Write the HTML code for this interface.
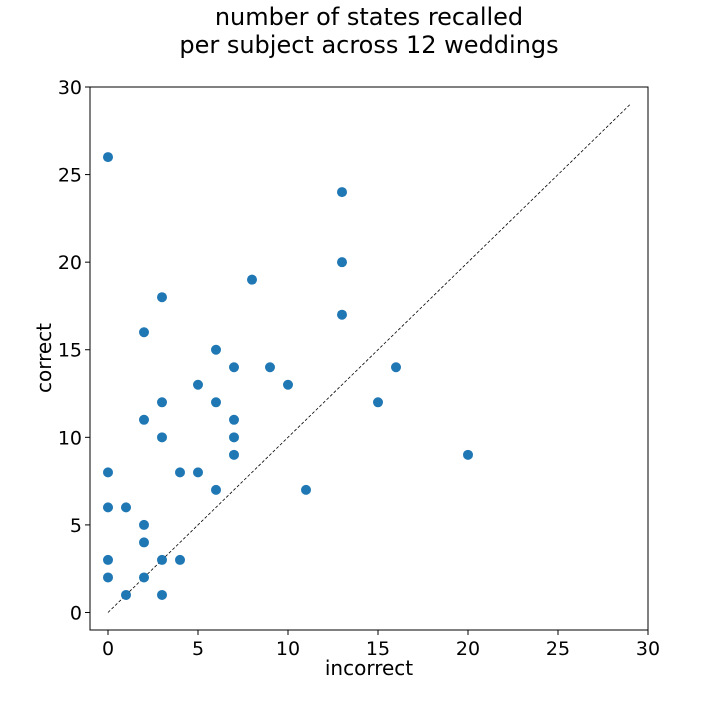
<!DOCTYPE html>
<html><head><meta charset="utf-8"><style>
html,body{margin:0;padding:0;background:#fff;}
svg{display:block;font-family:"DejaVu Sans","Liberation Sans",sans-serif;}
</style></head><body>
<svg id="chart" width="720" height="720">
<text x="369" y="25" font-size="24" text-anchor="middle">number of states recalled</text>
<text x="369" y="53" font-size="24" text-anchor="middle">per subject across 12 weddings</text>
<g id="plot"></g>
<rect x="90" y="87" width="558" height="543" fill="none" stroke="#000" stroke-width="1"/>
<text x="369" y="675" font-size="20" text-anchor="middle">incorrect</text>
<text x="51" y="358" font-size="20" text-anchor="middle" transform="rotate(-90 51 358)">correct</text>
</svg>
<script>
const xs=[0,13,13,8,3,13,2,6,7,9,16,5,10,3,6,15,2,7,3,7,7,20,0,4,5,6,11,0,1,2,2,0,3,4,0,2,1,3];
const ys=[26,24,20,19,18,17,16,15,14,14,14,13,13,12,12,12,11,11,10,10,9,9,8,8,8,7,7,6,6,5,4,3,3,3,2,2,1,1];
const xTicks=[0,5,10,15,20,25,30];
const yTicks=[0,5,10,15,20,25,30];
const diag=[0,29];
const NS="http://www.w3.org/2000/svg";
const X0=90,X1=648,Y0=630,Y1=87,MIN=-1,MAX=30;
function sx(v){return X0+(v-MIN)/(MAX-MIN)*(X1-X0);}
function sy(v){return Y0-(v-MIN)/(MAX-MIN)*(Y0-Y1);}
const svg=document.getElementById('chart');
const g=document.getElementById('plot');
function mk(t,a,p){const e=document.createElementNS(NS,t);for(const k in a)e.setAttribute(k,a[k]);(p||g).appendChild(e);return e;}
xTicks.forEach(v=>{
 const l=mk('line',{x1:sx(v),x2:sx(v),y1:Y0,y2:Y0+5,stroke:'#000'},svg);
 
 
 const t=mk('text',{x:sx(v),y:Y0+25,'font-size':19,'text-anchor':'middle'},svg);
 t.textContent=v;
 
 
});
yTicks.forEach(v=>{
 const l=mk('line',{x1:X0-5,x2:X0,y1:sy(v),y2:sy(v),stroke:'#000'},svg);
 
 
 const t=mk('text',{x:X0-8,y:sy(v)+7,'font-size':19,'text-anchor':'end'},svg);
 t.textContent=v;
 
 
});
const d=mk('line',{x1:sx(diag[0]),y1:sy(diag[0]),x2:sx(diag[1]),y2:sy(diag[1]),stroke:'#000','stroke-width':0.8,'stroke-dasharray':'3,2'});


xs.forEach((x,i)=>{
 const c=mk('circle',{cx:sx(x),cy:sy(ys[i]),r:5,fill:'#1f77b4'});
 
 
});
</script>
</body></html>
